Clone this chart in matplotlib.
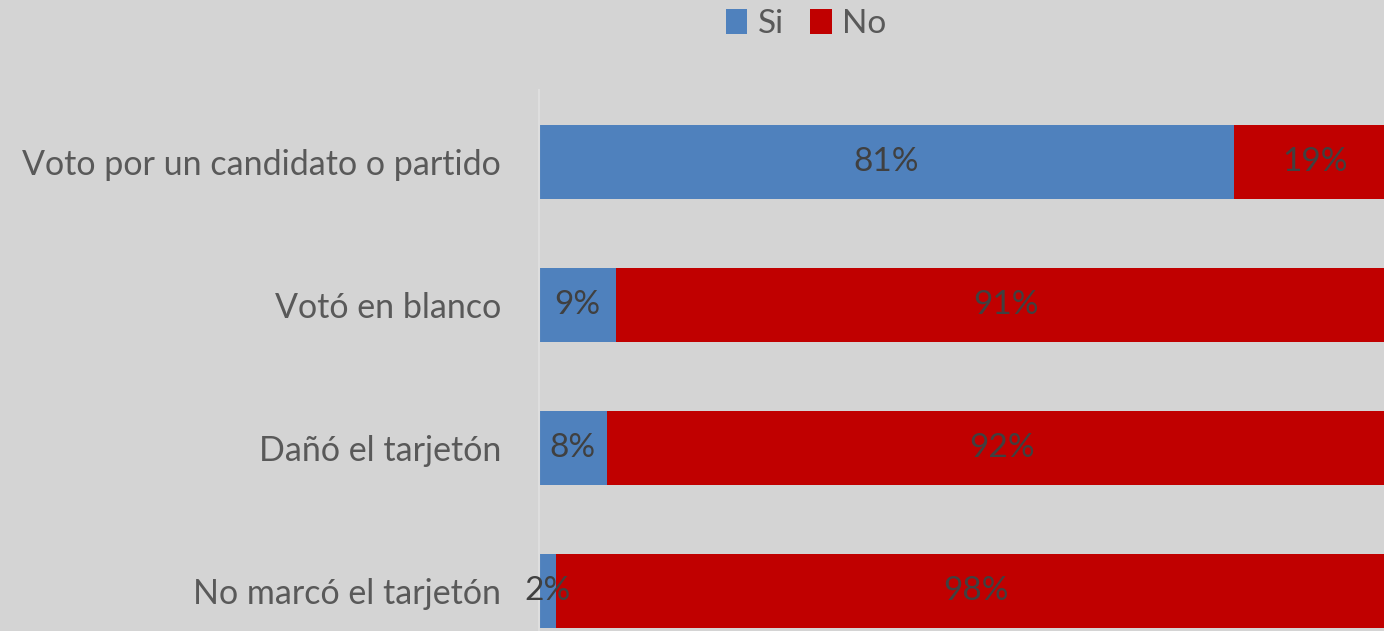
import matplotlib
matplotlib.use("Agg")
import matplotlib.pyplot as plt

categories = ["Voto por un candidato o partido", "Votó en blanco", "Dañó el tarjetón", "No marcó el tarjetón"]
si_values = [81, 9, 8, 2]
no_values = [19, 91, 92, 98]
series_names = ["Si", "No"]

BG = "#d4d4d4"
BLUE = "#4f81bd"
RED = "#c00000"
FONT = "Lato"

W, H = 1384, 631
fig = plt.figure(figsize=(W / 100, H / 100), dpi=100, facecolor=BG)

left_px, right_px = 538.5, 1397
top_px, bottom_px = 90, 631
ax = fig.add_axes([left_px / W, 1 - bottom_px / H, (right_px - left_px) / W, (bottom_px - top_px) / H])
ax.set_facecolor(BG)

ypos = list(range(len(categories)))
h = 0.52
b1 = ax.barh(ypos, si_values, height=h, color=BLUE, label=series_names[0])
b2 = ax.barh(ypos, no_values, left=si_values, height=h, color=RED, label=series_names[1])

for vals, lefts in ((si_values, [0] * 4), (no_values, si_values)):
    for y, v, l in zip(ypos, vals, lefts):
        ax.text(l + v / 2, y, f"{v}%", ha="center", va="center", fontsize=24,
                color="#404040", family=FONT)

ax.set_xlim(0, 100)
ax.set_ylim(3.28, -0.505)
ax.set_yticks(ypos)
ax.set_yticklabels(categories, fontsize=24.5, color="#595959", family=FONT)
ax.tick_params(axis="y", length=0, pad=27)
ax.set_xticks([])
for s in ("top", "right", "bottom"):
    ax.spines[s].set_visible(False)
ax.spines["left"].set_color("#dedede")
ax.spines["left"].set_linewidth(1.5)

leg = fig.legend(handles=[b1, b2], labels=series_names, loc="upper center",
                 bbox_to_anchor=(806 / W, 1.012), ncol=2, frameon=False,
                 prop={"family": FONT, "size": 24}, handlelength=0.65, handleheight=0.75,
                 handletextpad=0.3, columnspacing=0.8, borderaxespad=0.1)
for t in leg.get_texts():
    t.set_color("#595959")

fig.savefig("out.png", dpi=100, facecolor=BG)
